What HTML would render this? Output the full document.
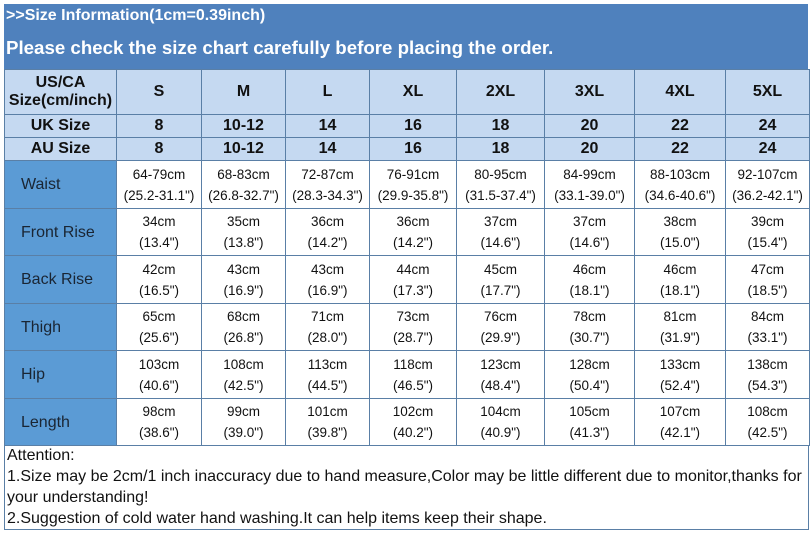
<!DOCTYPE html>
<html><head><meta charset="utf-8"><style>
body{margin:0;width:811px;height:533px;background:#fff;position:relative;overflow:hidden;font-family:"Liberation Sans",Arial,sans-serif;}
.band{position:absolute;left:4px;top:4px;width:804px;height:65px;background:#4f81bd;color:#fff;font-weight:bold;}
.t1{position:absolute;left:2px;top:3px;font-size:16px;}
.t2{position:absolute;left:2px;top:33px;font-size:18.7px;}
table{position:absolute;left:4px;top:69px;border-collapse:collapse;table-layout:fixed;width:805px;}
td{border:1px solid #5a7fa6;text-align:center;padding:0;font-size:13.5px;color:#111;line-height:21px;}
tr.h td{background:#c5d9f1;font-weight:bold;font-size:16px;line-height:18px;}
td.l{background:#5b9bd5;text-align:left;padding-left:16px;font-size:16px;color:#1a2533;}
.att{position:absolute;left:4px;top:445px;height:85px;border:1px solid #5a7fa6;border-top:none;font-size:16px;line-height:21px;color:#111;padding-left:2px;box-sizing:border-box;width:805px;}
</style></head><body>
<div class="band"><div class="t1">&gt;&gt;Size Information(1cm=0.39inch)</div><div class="t2">Please check the size chart carefully before placing the order.</div></div>
<table>
<colgroup><col style="width:112px"><col style="width:85px"><col style="width:84px"><col style="width:84px"><col style="width:87px"><col style="width:88px"><col style="width:90px"><col style="width:91px"><col style="width:84px"></colgroup>
<tr class="h" style="height:45px"><td>US/CA<br>Size(cm/inch)</td><td>S</td><td>M</td><td>L</td><td>XL</td><td>2XL</td><td>3XL</td><td>4XL</td><td>5XL</td></tr>
<tr class="h" style="height:23px"><td>UK Size</td><td>8</td><td>10-12</td><td>14</td><td>16</td><td>18</td><td>20</td><td>22</td><td>24</td></tr>
<tr class="h" style="height:23px"><td>AU Size</td><td>8</td><td>10-12</td><td>14</td><td>16</td><td>18</td><td>20</td><td>22</td><td>24</td></tr>
<tr style="height:48px"><td class="l">Waist</td><td>64-79cm<br>(25.2-31.1")</td><td>68-83cm<br>(26.8-32.7")</td><td>72-87cm<br>(28.3-34.3")</td><td>76-91cm<br>(29.9-35.8")</td><td>80-95cm<br>(31.5-37.4")</td><td>84-99cm<br>(33.1-39.0")</td><td>88-103cm<br>(34.6-40.6")</td><td>92-107cm<br>(36.2-42.1")</td></tr>
<tr style="height:47px"><td class="l">Front Rise</td><td>34cm<br>(13.4")</td><td>35cm<br>(13.8")</td><td>36cm<br>(14.2")</td><td>36cm<br>(14.2")</td><td>37cm<br>(14.6")</td><td>37cm<br>(14.6")</td><td>38cm<br>(15.0")</td><td>39cm<br>(15.4")</td></tr>
<tr style="height:48px"><td class="l">Back Rise</td><td>42cm<br>(16.5")</td><td>43cm<br>(16.9")</td><td>43cm<br>(16.9")</td><td>44cm<br>(17.3")</td><td>45cm<br>(17.7")</td><td>46cm<br>(18.1")</td><td>46cm<br>(18.1")</td><td>47cm<br>(18.5")</td></tr>
<tr style="height:47px"><td class="l">Thigh</td><td>65cm<br>(25.6")</td><td>68cm<br>(26.8")</td><td>71cm<br>(28.0")</td><td>73cm<br>(28.7")</td><td>76cm<br>(29.9")</td><td>78cm<br>(30.7")</td><td>81cm<br>(31.9")</td><td>84cm<br>(33.1")</td></tr>
<tr style="height:48px"><td class="l">Hip</td><td>103cm<br>(40.6")</td><td>108cm<br>(42.5")</td><td>113cm<br>(44.5")</td><td>118cm<br>(46.5")</td><td>123cm<br>(48.4")</td><td>128cm<br>(50.4")</td><td>133cm<br>(52.4")</td><td>138cm<br>(54.3")</td></tr>
<tr style="height:47px"><td class="l">Length</td><td>98cm<br>(38.6")</td><td>99cm<br>(39.0")</td><td>101cm<br>(39.8")</td><td>102cm<br>(40.2")</td><td>104cm<br>(40.9")</td><td>105cm<br>(41.3")</td><td>107cm<br>(42.1")</td><td>108cm<br>(42.5")</td></tr>
</table>
<div class="att">Attention:<br>1.Size may be 2cm/1 inch inaccuracy due to hand measure,Color may be little different due to monitor,thanks for your understanding!<br>2.Suggestion of cold water hand washing.It can help items keep their shape.</div>
</body></html>
